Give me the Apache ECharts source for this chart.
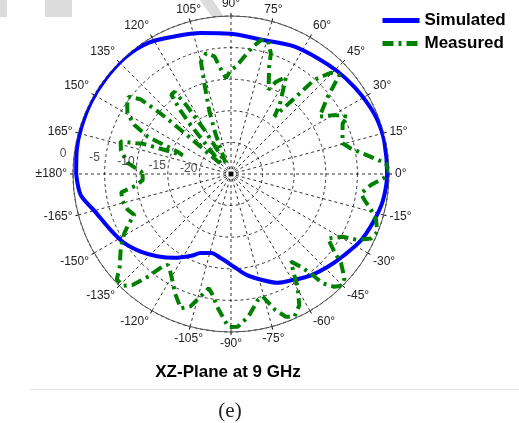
<!DOCTYPE html>
<html><head><meta charset="utf-8">
<script src="https://cdn.jsdelivr.net/npm/echarts@6/dist/echarts.min.js"></script>
<style>html,body{margin:0;padding:0;background:#fff}#c{width:519px;height:423px}</style>
</head><body><div id="c"></div>
<script>
// ---- data (angle in degrees, gain in dB) ----
const simAngles = [-180,-172,-165,-155,-147,-139,-132,-124,-116,-111,-104,-97,-88,-81,-74,-67,-59,-52,-44,-36,-27,-18,-10,0,12,20,27,35,44,53,64,77,90,102,112,122,132,143,153,163,171,180];
const simValues = [-0.5,-1.0,-2.6,-4.0,-4.9,-6.2,-7.5,-9.0,-10.6,-11.6,-12.1,-11.6,-10.3,-8.8,-7.6,-6.3,-5.5,-4.6,-3.8,-3.0,-1.9,-1.2,-0.6,-0.3,-0.2,-0.3,-0.65,-1.1,-1.6,-2.1,-2.5,-3.2,-2.8,-2.2,-1.5,-0.5,-0.1,-0.1,-0.1,-0.2,-0.3,-0.5];
const measAngles = [-180,-176,-173,-170.5,-166,-161,-157,-154,-151,-146.5,-140,-137.3,-134,-131.5,-129,-126.5,-124.8,-122.5,-120,-115,-110.5,-107,-104,-101,-98.5,-96,-91,-87.5,-83,-78,-75.5,-72,-69,-66,-62.5,-59.4,-58,-55.6,-53,-51,-50,-47.5,-45.3,-42.6,-39,-37,-33.6,-29.3,-27.5,-24.7,-21.8,-17.6,-14.4,-11,-8.5,-4.5,-1.5,0.5,3.9,7,12,15.4,20.2,24.4,26.2,29.7,33,38.6,42.4,45.4,48.5,50.1,52.9,55,58,60.5,64,66,68.7,70.4,71.7,74.5,77.4,80.3,83.5,87.3,90,93,96,98,101.7,105,106.5,109,111,116,121,123,124.5,127,128.5,129.5,131.5,135,138.5,139,139.5,140.5,143,146,149.6,153,155.9,156.7,157.5,159,160,161,162,163.6,168,174,178.5,180];
const measValues = [-11.0,-11.0,-9.8,-7.4,-7.3,-7.7,-8.4,-7.0,-5.7,-4.1,-2.0,-0.4,-0.4,-1.6,-4.1,-6.8,-7.5,-7.0,-6.2,-4.1,-2.3,-3.1,-5.0,-6.6,-5.6,-3.9,-0.8,-0.8,-2.3,-4.6,-5.0,-2.4,-0.8,-0.3,-1.6,-4.3,-6.1,-8.2,-6.6,-4.4,-2.4,-0.8,-0.1,-0.6,-2.6,-4.5,-6.6,-4.7,-2.4,-0.6,-0.1,-0.9,-2.1,-3.5,-4.2,-2.8,-0.8,0,-0.4,-2.7,-5.6,-6.7,-6.2,-5.6,-4.4,-6.2,-8.3,-5.4,-1.8,-2.5,-5.1,-9.4,-13.6,-11.5,-9.5,-7.3,-8.8,-10.4,-8.5,-7.0,-4.9,-3.1,-3.3,-4.6,-6.3,-8.0,-8.5,-9.8,-8.0,-6.2,-5.5,-6.6,-10.3,-14.5,-18,-23,-17,-12,-9.2,-9.3,-12,-15,-21,-23,-16,-12,-9.6,-6.4,-4.7,-5.2,-6.0,-7.8,-10.6,-14.1,-15.9,-16.8,-14,-10.2,-9.2,-6.8,-7.2,-8.6,-10.8,-11.0];
const radialTicks = [-20, -15, -10, -5, 0];
const seriesNames = ['Simulated', 'Measured'];
const titleText = 'XZ-Plane at 9 GHz';
const captionText = '(e)';

const font = '"Liberation Sans", Arial, sans-serif';
const chart = echarts.init(document.getElementById('c'), null, {renderer: 'canvas'});
const dashStyle = {color: '#000', width: 0.8, type: [3, 3]};
const option = {
  backgroundColor: '#fff',
  animation: false,
  polar: {center: [231, 174], radius: 158},
  angleAxis: {
    type: 'value', min: -180, max: 180, interval: 15, startAngle: 180, clockwise: false,
    axisLine: {show: true, lineStyle: {color: '#555', width: 1}},
    axisTick: {show: true, length: 3, lineStyle: {color: '#000'}},
    axisLabel: {margin: 6, color: '#222', fontSize: 12, fontFamily: font,
      formatter: v => v === -180 ? '±180°' : (v === 180 ? '' : v + '°')},
    splitLine: {show: true, lineStyle: dashStyle}
  },
  radiusAxis: {
    type: 'value', min: -25, max: 0, interval: 5,
    axisLine: {show: false}, axisTick: {show: false}, axisLabel: {show: false},
    splitLine: {show: true, lineStyle: dashStyle}
  },
  legend: {
    data: seriesNames, orient: 'vertical', left: 380, top: 12, padding: 0,
    itemWidth: 37, itemHeight: 12, itemGap: 6,
    itemStyle: {opacity: 0},
    lineStyle: {width: 5},
    textStyle: {fontSize: 17, fontWeight: 'bold', fontFamily: font, color: '#000', lineHeight: 17}
  },
  series: [
    {name: seriesNames[0], type: 'line', coordinateSystem: 'polar',
      data: simAngles.map((a, i) => [simValues[i], a]),
      symbol: 'none', showSymbol: false, smooth: 0.3,
      lineStyle: {color: '#0000ff', width: 4}, itemStyle: {color: '#0000ff'}, z: 3},
    {name: seriesNames[1], type: 'line', coordinateSystem: 'polar',
      data: measAngles.map((a, i) => [measValues[i], a]),
      symbol: 'none', showSymbol: false,
      lineStyle: {color: '#008000', width: 4, type: [11, 5, 3, 5]}, itemStyle: {color: '#008000'}, z: 4},
    {type: 'scatter', coordinateSystem: 'polar', silent: true, z: 5,
      data: radialTicks.map(v => [v, 173]), symbolSize: 1, itemStyle: {color: 'rgba(0,0,0,0)'},
      label: {show: true, position: 'inside', offset: [-11, -1], formatter: p => String(p.value[0]),
        color: '#222', fontSize: 12, fontFamily: font}},
    {type: 'scatter', coordinateSystem: 'polar', silent: true, z: 5,
      data: [[-25, 0]], symbol: 'rect', symbolSize: 5, itemStyle: {color: '#000'}}
  ],
  graphic: [
    {type: 'rect', shape: {x: 0, y: 0, width: 7, height: 17}, style: {fill: '#dcdcdc'}, z: -1},
    {type: 'rect', shape: {x: 45, y: 0, width: 27, height: 17}, style: {fill: '#dcdcdc'}, z: -1},
    {type: 'polygon', shape: {points: [[200, 0], [213, 0], [224, 17], [212, 17]]}, style: {fill: '#dcdcdc'}, z: -1},
    {type: 'text', x: 228, y: 372, style: {text: titleText, font: 'bold 17px "Liberation Sans", Arial', fill: '#000', align: 'center', verticalAlign: 'middle'}},
    {type: 'line', shape: {x1: 30, y1: 389.5, x2: 519, y2: 389.5}, style: {stroke: '#e6e6e6', lineWidth: 1}},
    {type: 'text', x: 230, y: 411, style: {text: captionText, font: '21px "Liberation Serif", serif', fill: '#222', align: 'center', verticalAlign: 'middle'}}
  ]
};
chart.setOption(option);
</script>
</body></html>
